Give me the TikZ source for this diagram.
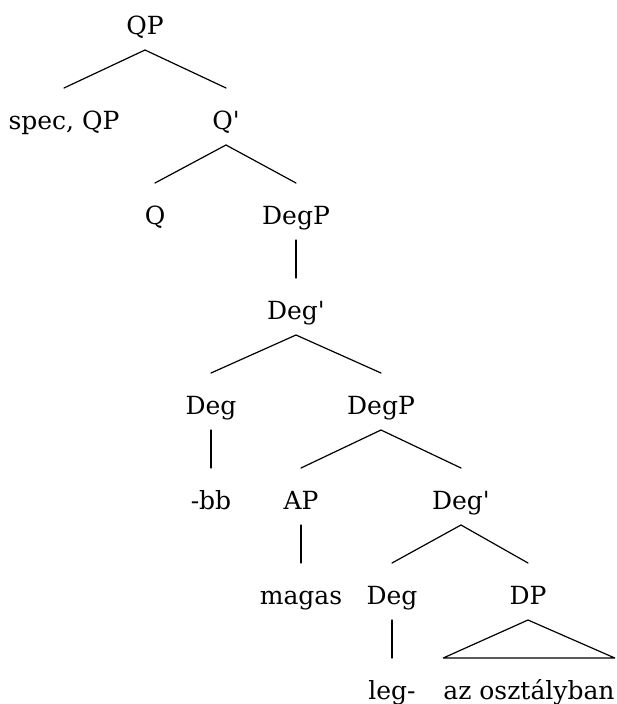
\documentclass[tikz,border=0pt]{standalone}
\usepackage{fontspec}
\setmainfont{DejaVu Serif}
\usepackage{tikz}
\usetikzlibrary{positioning}
\tikzstyle{cat}  = [inner xsep=0pt, inner ysep=0pt, outer ysep=10pt, text height=31pt,
                    text depth=6pt, anchor=base, font=\fontsize{25pt}{30pt}\selectfont]
\tikzstyle{branch} = [line width=1.2pt, line cap=round]

\begin{document}
\begin{tikzpicture}[x=1pt, y=-1pt]
		\useasboundingbox (0,0) rectangle (617,704);
		% levels of the tree, 95pt apart
		\node[cat] (QP)      at (145,34)  {QP};
		\node[cat] (specQP)  at (64,129)  {spec, QP};
		\node[cat] (Qbar)    at (226,129) {Q\textquotesingle};
		\node[cat] (Q)       at (155,224) {Q};
		\node[cat] (DegPa)   at (296,224) {DegP};
		\node[cat] (Degbara) at (296,319) {Deg\textquotesingle};
		\node[cat] (Dega)    at (211,414) {Deg};
		\node[cat] (DegPb)   at (381,414) {DegP};
		\node[cat] (bb)      at (211,509) {-bb};
		\node[cat] (AP)      at (301,509) {AP};
		\node[cat] (Degbarb) at (461,509) {Deg\textquotesingle};
		\node[cat] (magas)   at (301,604) {magas};
		\node[cat] (Degb)    at (392,604) {Deg};
		\node[cat] (DP)      at (528,604) {DP};
		\node[cat] (leg)     at (392,699) {leg-};
		\node[cat] (oszt)    at (529,699) {az osztályban};
		\draw[branch] (specQP.north) -- (QP.south) -- (Qbar.north);
		\draw[branch] (Q.north) -- (Qbar.south) -- (DegPa.north);
		\draw[branch] (DegPa.south) -- (Degbara.north);
		\draw[branch] (Dega.north) -- (Degbara.south) -- (DegPb.north);
		\draw[branch] (Dega.south) -- (bb.north);
		\draw[branch] (AP.north) -- (DegPb.south) -- (Degbarb.north);
		\draw[branch] (AP.south) -- (magas.north);
		\draw[branch] (Degb.north) -- (Degbarb.south) -- (DP.north);
		\draw[branch] (Degb.south) -- (leg.north);
		\draw[branch, line join=round] (DP.south) -- (oszt.north west) -- (oszt.north east) -- cycle;
	\end{tikzpicture}
\end{document}
